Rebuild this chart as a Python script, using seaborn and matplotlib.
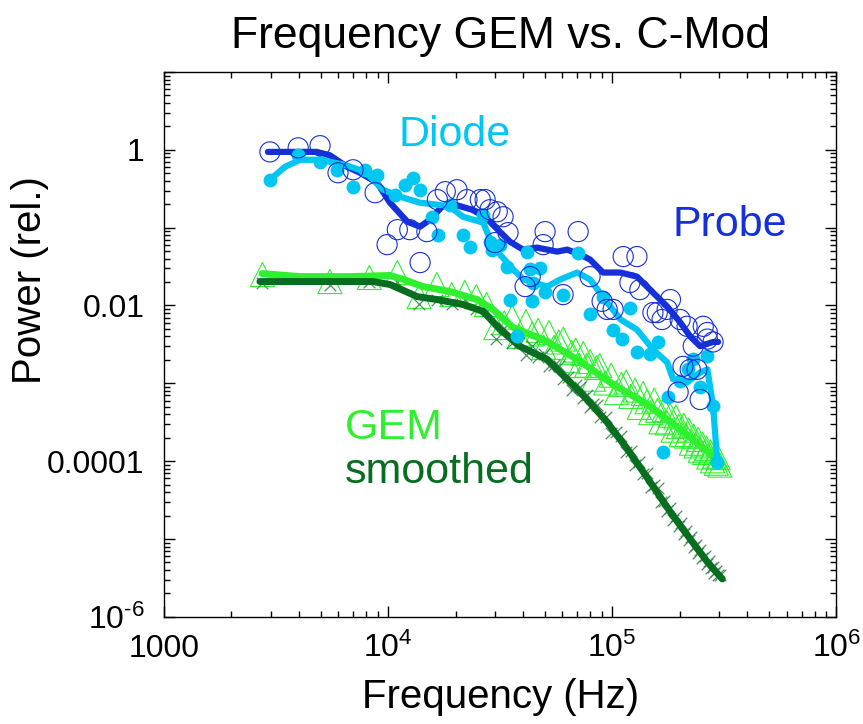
import numpy as np
import pandas as pd
import matplotlib
matplotlib.use("Agg")
import matplotlib.pyplot as plt
import matplotlib.ticker as mticker
import seaborn as sns

# ---------------- data ----------------
probe_pts_freq = [2.97e3, 3.97e3, 4.97e3, 5.98e3, 6.98e3, 8.75e3, 9.9e3, 1.10e4, 1.25e4, 1.39e4,
                  1.49e4, 1.66e4, 1.80e4, 2.03e4, 2.25e4, 2.58e4, 2.85e4, 3.0e4, 2.71e4, 3.07e4,
                  3.26e4, 3.43e4, 5.02e4, 7.05e4, 4.92e4, 4.31e4, 4.09e4, 6.04e4, 7.97e4, 9.02e4,
                  1.01e5, 1.12e5, 1.29e5, 1.20e5, 1.33e5, 1.52e5, 1.82e5, 1.67e5, 2.01e5, 2.16e5,
                  2.55e5, 2.82e5, 2.23e5, 2.07e5, 9.5e4, 1.59e5, 1.76e5, 2.66e5, 2.39e5, 1.97e5,
                  2.47e5, 2.66e5, 2.30e5]
probe_pts_power = [0.94, 1.06, 1.13, 0.507, 0.554, 0.281, 0.0605, 0.0942, 0.0942, 0.0356,
                   0.0889, 0.229, 0.29, 0.307, 0.229, 0.229, 0.170, 0.0643, 0.229, 0.160,
                   0.138, 0.0863, 0.0889, 0.0889, 0.0605, 0.0235, 0.0175, 0.0138, 0.0235, 0.0113,
                   0.0089, 0.0425, 0.0425, 0.0197, 0.0160, 0.0081, 0.0119, 0.0066, 0.0066, 0.0054,
                   0.0054, 0.0034, 0.00151, 0.00165, 0.0089, 0.0081, 0.0089, 0.0045, 0.00151, 0.00077,
                   0.00062, 0.0037, 0.0030]

probe_line_freq = [2.91e3, 4.8e3, 5.5e3, 6.56e3, 7.5e3, 8.93e3, 1.02e4, 1.22e4, 1.39e4, 1.54e4,
                   1.74e4, 1.98e4, 2.37e4, 2.71e4, 3.09e4, 3.5e4, 4.0e4, 4.63e4, 5.68e4, 6.3e4,
                   7.2e4, 7.97e4, 9.1e4, 1.09e5, 1.29e5, 1.43e5, 1.76e5, 2.01e5, 2.23e5, 2.47e5,
                   2.82e5, 2.97e5]
probe_line_power = [0.94, 0.94, 0.85, 0.605, 0.507, 0.378, 0.209, 0.119, 0.103, 0.127,
                    0.186, 0.198, 0.170, 0.138, 0.094, 0.066, 0.0522, 0.0554, 0.0492, 0.0522,
                    0.0451, 0.0389, 0.0265, 0.0265, 0.0235, 0.0175, 0.0097, 0.0061, 0.0040, 0.0030,
                    0.0034, 0.0034]

diode_pts_freq = [2.97e3, 3.97e3, 4.97e3, 5.92e3, 6.98e3, 7.89e3, 8.93e3, 1.07e4, 1.19e4, 1.29e4,
                  1.39e4, 1.57e4, 1.67e4, 1.89e4, 2.16e4, 2.32e4, 2.66e4, 2.91e4, 2.85e4, 3.16e4,
                  3.4e4, 4.18e4, 4.31e4, 4.77e4, 4.44e4, 5.02e4, 3.51e4, 4.39e4, 6.04e4, 7.05e4,
                  7.97e4, 9.1e4, 1.01e5, 1.11e5, 1.20e5, 1.29e5, 1.60e5, 1.48e5, 2.30e5, 2.66e5,
                  3.77e4, 1.78e5, 2.01e5, 2.18e5, 2.47e5, 2.82e5, 2.94e5, 1.69e5]
diode_pts_power = [0.412, 0.863, 0.70, 0.554, 0.336, 0.554, 0.478, 0.265, 0.356, 0.438,
                   0.307, 0.138, 0.0813, 0.197, 0.0813, 0.057, 0.147, 0.0522, 0.0662, 0.0605,
                   0.0316, 0.0492, 0.029, 0.0307, 0.0197, 0.0147, 0.0119, 0.0113, 0.0138, 0.0478,
                   0.00767, 0.0127, 0.0049, 0.00367, 0.0094, 0.0025, 0.0034, 0.00235, 0.00203, 0.00222,
                   0.0040, 0.00066, 0.00106, 0.00151, 0.00089, 0.00051, 0.000097, 0.00013]

diode_line_freq = [2.97e3, 3.47e3, 4.05e3, 4.97e3, 6.43e3, 7.89e3, 9.5e3, 1.13e4, 1.39e4, 1.66e4,
                   1.89e4, 2.16e4, 2.66e4, 2.94e4, 3.62e4, 4.02e4, 5.13e4, 5.87e4, 6.98e4, 7.97e4,
                   9.5e4, 1.09e5, 1.29e5, 1.52e5, 1.76e5, 1.87e5, 2.16e5, 2.47e5, 2.66e5, 2.82e5,
                   2.94e5]
diode_line_power = [0.412, 0.605, 0.744, 0.744, 0.64, 0.522, 0.307, 0.25, 0.209, 0.197,
                    0.186, 0.138, 0.116, 0.057, 0.029, 0.0216, 0.0175, 0.0216, 0.0265, 0.0216,
                    0.0109, 0.0066, 0.0049, 0.00273, 0.00186, 0.00113, 0.00103, 0.00138, 0.00151, 0.00051,
                    0.000106]

gem_freq = [2750, 5500, 8250, 11000, 13750, 16500, 19250, 22000, 24750, 27500,
            30250, 33000, 35750, 38500, 41250, 44000, 46750, 49500, 52250, 55000,
            57750, 60500, 63250, 66000, 68750, 71500, 74250, 77000, 79750, 82500,
            85250, 88000, 93500, 99000, 104500, 110000, 115500, 121000, 126500, 132000,
            137500, 143000, 148500, 154000, 159500, 165000, 170500, 176000, 181500, 187000,
            192500, 198000, 203500, 209000, 214500, 220000, 225500, 231000, 236500, 242000,
            247500, 253000, 258500, 264000, 269500, 275000, 280500, 286000, 291500, 297000,
            302500]
gem_raw_power = [0.025, 0.0203, 0.0229, 0.0265, 0.013, 0.0186, 0.0138, 0.0147, 0.013, 0.0103,
                 0.0052, 0.0060, 0.0071, 0.0040, 0.0062, 0.0043, 0.0048, 0.0029, 0.0045, 0.0029,
                 0.0034, 0.0037, 0.00195, 0.0025, 0.00267, 0.00169, 0.00242, 0.00171, 0.00191, 0.00113,
                 0.0016, 0.00169, 0.00101, 0.00127, 0.00076, 0.00097, 0.00104, 0.00068, 0.00082, 0.00049,
                 0.00074, 0.00058, 0.00042, 0.00061, 0.00045, 0.00032, 0.00046, 0.00031, 0.00039, 0.00025,
                 0.00037, 0.00028, 0.00022, 0.00029, 0.00021, 0.00025, 0.00017, 0.00021, 0.000157, 0.00019,
                 0.000138, 0.000166, 0.000129, 0.000146, 0.000113, 0.000131, 0.000101, 0.000116, 0.000094, 0.000111,
                 0.000089]
smooth_raw_power = [0.0197, 0.0186, 0.0203, 0.0203, 0.0103, 0.0119, 0.0103, 0.0119, 0.0089, 0.0084,
                    0.00367, 0.00507, 0.00325, 0.00327, 0.00233, 0.00302, 0.0022, 0.00239, 0.00168, 0.00174,
                    0.00169, 0.00112, 0.00122, 0.00081, 0.00094, 0.0009, 0.00065, 0.00071, 0.00049, 0.00055,
                    0.00053, 0.00037, 0.00037, 0.00023, 0.000235, 0.00021, 0.000132, 0.000135, 8.8e-5, 9.9e-5,
                    6.9e-5, 7.1e-5, 4.6e-5, 5.0e-5, 4.5e-5, 3.0e-5, 3.1e-5, 2.3e-5, 2.5e-5, 1.76e-5,
                    1.95e-5, 1.47e-5, 1.59e-5, 1.15e-5, 1.25e-5, 9.6e-6, 1.07e-5, 7.9e-6, 8.5e-6, 6.6e-6,
                    7.3e-6, 5.7e-6, 6.1e-6, 4.8e-6, 5.2e-6, 4.2e-6, 4.4e-6, 3.7e-6, 3.9e-6, 3.4e-6,
                    3.4e-6]

gem_line_freq = [2.74e3, 4.05e3, 6.76e3, 1.02e4, 1.17e4, 1.43e4, 1.89e4, 2.5e4, 2.94e4, 3.61e4,
                 5.13e4, 7.2e4, 1.01e5, 1.43e5, 2.01e5, 2.94e5]
gem_line_power = [0.0257, 0.0235, 0.0235, 0.0243, 0.0216, 0.0175, 0.0151, 0.0119, 0.0089, 0.00522,
                  0.00345, 0.00191, 0.00097, 0.00054, 0.000257, 0.000106]

smooth_line_freq = [2.68e3, 4.82e3, 8.57e3, 1.02e4, 1.35e4, 1.66e4, 2.16e4, 2.66e4, 3.16e4, 3.88e4,
                    5.13e4, 6.3e4, 7.73e4, 9.5e4, 1.17e5, 1.43e5, 1.82e5, 2.23e5, 2.66e5, 3.10e5]
smooth_line_power = [0.0203, 0.0203, 0.0203, 0.0186, 0.0130, 0.0119, 0.0103, 0.00838, 0.00492, 0.00298,
                     0.00203, 0.00113, 0.00062, 0.000316, 0.000143, 6.2e-5, 2.22e-5, 1.0e-5, 5.07e-6, 3.07e-6]

x_major = [1e3, 1e4, 1e5, 1e6]
x_major_labels = ["1000", r"$10^4$", r"$10^5$", r"$10^6$"]
y_major = [1e-6, 1e-5, 1e-4, 1e-3, 1e-2, 1e-1, 1, 10]
y_major_labels = [r"$10^{\text{-}6}$", "", "0.0001", "", "0.01", "", "1", ""]

title = "Frequency GEM vs. C-Mod"
xlabel = "Frequency (Hz)"
ylabel = "Power (rel.)"

# ---------------- styling ----------------
probe_color = "#1530d8"
diode_color = "#00c6f2"
gem_color = "#2ef02e"
smooth_color = "#066e1e"
smooth_marker_color = "#2f7d42"

sns.set_theme(style="ticks")
plt.rcParams["font.family"] = ["Liberation Sans", "DejaVu Sans"]
plt.rcParams["mathtext.fontset"] = "custom"
plt.rcParams["mathtext.rm"] = "Liberation Sans"
plt.rcParams["mathtext.it"] = "Liberation Sans:italic"
plt.rcParams["mathtext.bf"] = "Liberation Sans:bold"
plt.rcParams["axes.linewidth"] = 1.0
plt.rcParams["text.color"] = "black"
plt.rcParams["axes.labelcolor"] = "black"
plt.rcParams["xtick.color"] = "black"
plt.rcParams["ytick.color"] = "black"
plt.rcParams["xtick.labelcolor"] = "black"
plt.rcParams["ytick.labelcolor"] = "black"

fig = plt.figure(figsize=(8.63, 7.24), dpi=100)
ax = fig.add_axes([0.190, 0.148, 0.779, 0.7526])
ax.set_xscale("log")
ax.set_yscale("log")

df_probe_pts = pd.DataFrame({"f": probe_pts_freq, "p": probe_pts_power})
df_probe_line = pd.DataFrame({"f": probe_line_freq, "p": probe_line_power})
df_diode_pts = pd.DataFrame({"f": diode_pts_freq, "p": diode_pts_power})
df_diode_line = pd.DataFrame({"f": diode_line_freq, "p": diode_line_power})
df_gem_raw = pd.DataFrame({"f": gem_freq, "p": gem_raw_power})
df_smooth_raw = pd.DataFrame({"f": gem_freq, "p": smooth_raw_power})
df_gem_line = pd.DataFrame({"f": gem_line_freq, "p": gem_line_power})
df_smooth_line = pd.DataFrame({"f": smooth_line_freq, "p": smooth_line_power})

# GEM raw (triangles) and smoothed raw (x)
sns.scatterplot(data=df_gem_raw, x="f", y="p", ax=ax, marker="^", s=300,
                facecolor="none", edgecolor=gem_color, linewidth=0.8, zorder=2)
sns.scatterplot(data=df_smooth_raw, x="f", y="p", ax=ax, marker="x", s=70,
                color=smooth_marker_color, linewidth=0.9, alpha=0.85, zorder=2)
sns.lineplot(data=df_gem_line, x="f", y="p", ax=ax, sort=False, estimator=None,
             color=gem_color, lw=5.0, zorder=3)
sns.lineplot(data=df_smooth_line, x="f", y="p", ax=ax, sort=False, estimator=None,
             color=smooth_color, lw=5.0, zorder=3)

# Probe / diode
sns.lineplot(data=df_probe_line, x="f", y="p", ax=ax, sort=False, estimator=None,
             color=probe_color, lw=4.5, zorder=4)
sns.lineplot(data=df_diode_line, x="f", y="p", ax=ax, sort=False, estimator=None,
             color=diode_color, lw=4.5, zorder=5)
sns.scatterplot(data=df_diode_pts, x="f", y="p", ax=ax, marker="o", s=100,
                color=diode_color, edgecolor=diode_color, linewidth=0, zorder=6)
sns.scatterplot(data=df_probe_pts, x="f", y="p", ax=ax, marker="o", s=210,
                facecolor="none", edgecolor=probe_color, linewidth=0.8, zorder=7)

ax.set_xlim(1e3, 1e6)
ax.set_ylim(1e-6, 10)

ax.xaxis.set_major_locator(mticker.FixedLocator(x_major))
ax.xaxis.set_major_formatter(mticker.FixedFormatter(x_major_labels))
ax.xaxis.set_minor_locator(mticker.LogLocator(base=10, subs=np.arange(2, 10), numticks=100))
ax.xaxis.set_minor_formatter(mticker.NullFormatter())
ax.yaxis.set_major_locator(mticker.FixedLocator(y_major))
ax.yaxis.set_major_formatter(mticker.FixedFormatter(y_major_labels))
ax.yaxis.set_minor_locator(mticker.LogLocator(base=10, subs=np.arange(2, 10), numticks=100))
ax.yaxis.set_minor_formatter(mticker.NullFormatter())

ax.tick_params(which="both", direction="in", top=True, right=True, color="black", width=1.0)
ax.tick_params(which="major", length=8)
ax.tick_params(which="minor", length=4)
ax.tick_params(axis="x", which="major", labelsize=23, pad=29, labelcolor="black")
ax.tick_params(axis="y", which="major", labelsize=23, pad=14, labelcolor="black")
for lbl in ax.get_xticklabels():
    lbl.set_verticalalignment("baseline")

for sp in ax.spines.values():
    sp.set_visible(True)
    sp.set_color("black")
    sp.set_linewidth(1.0)

ax.set_xlabel("")
ax.set_ylabel("")
ax.set_title(title, fontsize=32, pad=17, color="black")
fig.text(0.5 * (0.190 + 0.969), 1 - 697 / 724, xlabel, fontsize=29, ha="center", va="center",
         color="black")
fig.text(30 / 863, 1 - 280 / 724, ylabel, fontsize=29, ha="center", va="center", rotation=90,
         color="black")

ax.text(0.433, 0.884, "Diode", transform=ax.transAxes, fontsize=31, color=diode_color,
        ha="center", va="center")
ax.text(0.842, 0.719, "Probe", transform=ax.transAxes, fontsize=31, color=probe_color,
        ha="center", va="center")
ax.text(0.269, 0.347, "GEM", transform=ax.transAxes, fontsize=31, color=gem_color,
        ha="left", va="center")
ax.text(0.269, 0.266, "smoothed", transform=ax.transAxes, fontsize=31, color=smooth_color,
        ha="left", va="center")

leg = ax.get_legend()
if leg is not None:
    leg.remove()

fig.savefig("out.png", dpi=100)
